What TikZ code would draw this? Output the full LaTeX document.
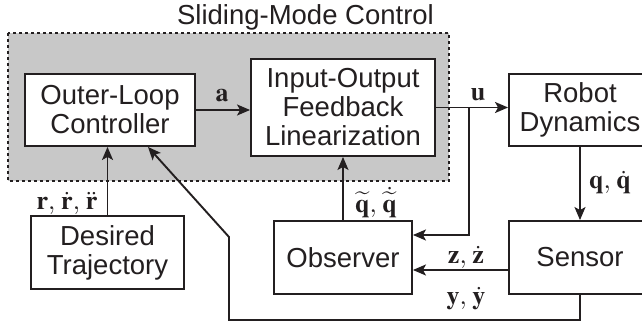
\documentclass[tikz,border=0pt]{standalone}
\usepackage{mathptmx}
\usepackage[no-math]{fontspec}
\setmainfont{Liberation Sans}
\usetikzlibrary{arrows.meta,calc}
\definecolor{ink}{HTML}{231F20}
\definecolor{regiongray}{HTML}{C8C8C8}
\begin{document}
\begin{tikzpicture}[x=1pt,y=-1pt,
  box/.style={draw=ink,line width=1.9pt,fill=white,text=ink,align=center,
    inner sep=0pt,font=\fontsize{27.5}{29}\selectfont},
  arr/.style={draw=ink,line width=1.9pt,-{Stealth[length=13pt,width=11pt,inset=3pt]}},
  lbl/.style={text=ink,inner sep=0pt,anchor=base,font=\fontsize{26}{28}\selectfont},
  region/.style={draw=ink,line width=1.5pt,fill=regiongray,dash pattern=on 3pt off 3pt}]
\useasboundingbox (0,0) rectangle (642,326);
\clip (0,0) rectangle (642,326);
% sliding-mode region
\path[region] (8,33) rectangle (449,181);
\node[text=ink,inner sep=0pt,anchor=base,font=\fontsize{27.5}{29}\selectfont] (title) at (305.5,25) {Sliding-Mode Control};
% blocks
\node[box,minimum width=170pt,minimum height=72pt] (outer) at (110,110) {Outer-Loop\\Controller};
\node[box,minimum width=184pt,minimum height=97pt] (io) at (343,107.5) {Input-Output\\Feedback\\Linearization};
\node[box,minimum width=142pt,minimum height=72pt] (robot) at (580,110) {Robot\\Dynamics};
\node[box,minimum width=142pt,minimum height=73pt] (sensor) at (580,257.5) {Sensor};
\node[box,minimum width=138pt,minimum height=73pt] (obs) at (343,257.5) {Observer};
\node[box,minimum width=153pt,minimum height=73pt] (des) at (107.5,252.5) {Desired\\Trajectory};
% connectors
\draw[arr] (outer.east) -- (outer.east -| io.west);
\draw[arr] (io.east) -- (io.east -| robot.west);
\coordinate (br) at (469,107.5);
\draw[arr] (br) |- ([yshift=22.5pt]obs.east);
\draw[arr] (robot.south) -- (sensor.north);
\draw[arr] ([yshift=-12.5pt]sensor.west) -- ([yshift=-12.5pt]obs.east);
\draw[arr] (obs.north) -- (io.south);
\draw[arr] (des.north) -- (des.north |- outer.south);
\coordinate (yl1) at (229,320);
\coordinate (yl2) at (229,237);
\draw[arr] (sensor.south) |- (yl1) -- (yl2) -- ([xshift=38pt]outer.south);
% labels
\node[lbl] (la) at (222,102) {$\mathbf{a}$};
\node[lbl] (lu) at (478,101) {$\mathbf{u}$};
\node[lbl] (lq) at (610,188) {$\mathbf{q},\,\dot{\mathbf{q}}$};
\node[lbl] (lr) at (67,209) {$\mathbf{r},\,\dot{\mathbf{r}},\,\ddot{\mathbf{r}}$};
\node[lbl] (lqt) at (376,212) {$\widetilde{\mathbf{q}},\,\dot{\widetilde{\mathbf{q}}}$};
\node[lbl] (lz) at (466,263) {$\mathbf{z},\,\dot{\mathbf{z}}$};
\node[lbl] (ly) at (466,304) {$\mathbf{y},\,\dot{\mathbf{y}}$};
\end{tikzpicture}
\end{document}
